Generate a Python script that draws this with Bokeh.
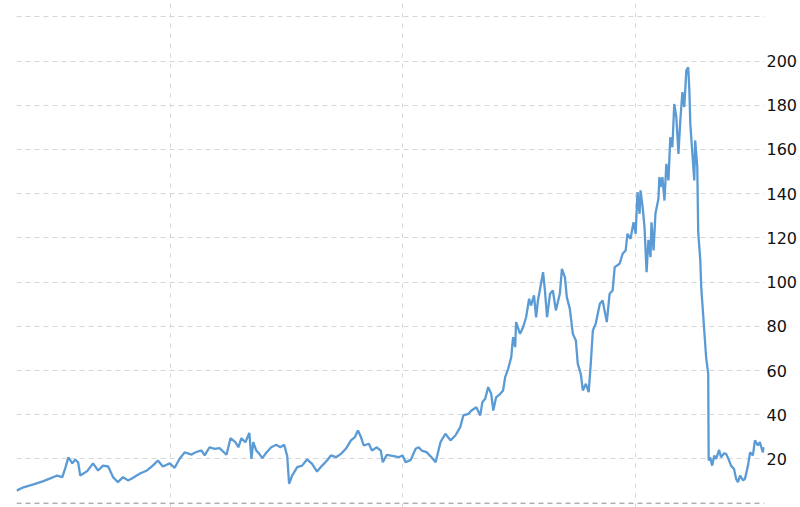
from bokeh.plotting import figure
from bokeh.models import Range1d, FixedTicker, LinearAxis, Span, Grid
from bokeh.embed import file_html
from bokeh.resources import INLINE

years = [
    1983.40, 1983.70, 1984.13, 1984.56, 1984.85, 1985.15, 1985.37, 1985.50, 1985.63, 1985.80,
    1985.92, 1986.05, 1986.14, 1986.44, 1986.69, 1986.91, 1987.12, 1987.34, 1987.55, 1987.76,
    1987.98, 1988.19, 1988.36, 1988.71, 1989.01, 1989.26, 1989.48, 1989.69, 1989.99, 1990.20,
    1990.42, 1990.63, 1990.93, 1991.06, 1991.23, 1991.36, 1991.49, 1991.70, 1991.92, 1992.13,
    1992.43, 1992.60, 1992.81, 1992.94, 1993.07, 1993.24, 1993.41, 1993.50, 1993.58, 1993.71,
    1993.84, 1993.97, 1994.14, 1994.35, 1994.57, 1994.74, 1994.91, 1995.04, 1995.12, 1995.25,
    1995.47, 1995.68, 1995.89, 1996.11, 1996.32, 1996.54, 1996.75, 1996.92, 1997.14, 1997.35,
    1997.56, 1997.78, 1997.95, 1998.08, 1998.21, 1998.33, 1998.55, 1998.68, 1998.89, 1999.06,
    1999.15, 1999.32, 1999.62, 1999.83, 2000.00, 2000.13, 2000.35, 2000.56, 2000.69, 2000.82,
    2001.03, 2001.24, 2001.42, 2001.63, 2001.84, 2002.06, 2002.27, 2002.48, 2002.61, 2002.83,
    2002.96, 2003.17, 2003.34, 2003.43, 2003.55, 2003.68, 2003.81, 2003.90, 2004.02, 2004.20,
    2004.32, 2004.41, 2004.54, 2004.67, 2004.75, 2004.84, 2004.88, 2005.05, 2005.18, 2005.31,
    2005.44, 2005.52, 2005.65, 2005.74, 2005.82, 2006.04, 2006.12, 2006.21, 2006.34, 2006.46,
    2006.59, 2006.76, 2006.85, 2006.98, 2007.06, 2007.19, 2007.32, 2007.45, 2007.53, 2007.66,
    2007.75, 2007.88, 2008.00, 2008.09, 2008.18, 2008.30, 2008.48, 2008.60, 2008.78, 2008.90,
    2009.03, 2009.12, 2009.33, 2009.46, 2009.59, 2009.67, 2009.80, 2009.93, 2010.02, 2010.10,
    2010.19, 2010.23, 2010.32, 2010.40, 2010.49, 2010.57, 2010.66, 2010.70, 2010.79, 2010.87,
    2011.00, 2011.04, 2011.09, 2011.17, 2011.26, 2011.34, 2011.43, 2011.51, 2011.60, 2011.68,
    2011.77, 2011.86, 2011.94, 2012.03, 2012.11, 2012.20, 2012.28, 2012.33, 2012.37, 2012.45,
    2012.54, 2012.58, 2012.67, 2012.71, 2012.80, 2012.84, 2012.93, 2012.97, 2013.05, 2013.14,
    2013.16, 2013.22, 2013.31, 2013.40, 2013.48, 2013.61, 2013.69, 2013.82, 2013.91, 2014.04,
    2014.12, 2014.25, 2014.34, 2014.42, 2014.51, 2014.64, 2014.72, 2014.85, 2014.94, 2015.06,
    2015.15, 2015.28, 2015.36, 2015.49, 2015.54,
]

prices = [
    5.7, 7.2, 8.5, 10.0, 11.2, 12.5, 11.8, 16.0, 20.7, 18.0,
    19.7, 18.5, 12.5, 14.5, 18.0, 14.8, 17.0, 16.6, 11.8, 9.5,
    11.8, 10.3, 11.2, 13.4, 14.8, 17.0, 19.3, 16.6, 18.0, 16.0,
    20.2, 23.0, 22.0, 22.8, 23.5, 23.8, 21.6, 25.3, 24.6, 24.9,
    21.9, 29.4, 27.6, 25.3, 29.4, 27.6, 31.8, 20.0, 27.6, 23.8,
    22.3, 20.4, 22.8, 25.3, 26.4, 25.3, 26.4, 21.3, 8.8, 12.5,
    16.3, 17.0, 19.8, 17.8, 14.3, 17.0, 19.3, 21.6, 20.8, 22.3,
    24.6, 28.4, 29.9, 32.9, 29.9, 26.1, 26.9, 23.8, 25.3, 23.8,
    18.5, 21.9, 21.3, 20.8, 21.6, 18.5, 19.6, 24.6, 25.3, 23.8,
    23.1, 20.8, 18.5, 27.6, 31.4, 28.4, 30.6, 34.4, 39.7, 40.4,
    41.9, 43.4, 39.7, 45.7, 47.2, 52.5, 49.5, 41.9, 47.9, 49.5,
    51.0, 57.0, 60.8, 66.0, 75.1, 70.6, 81.9, 76.6, 79.6, 84.1,
    92.5, 89.4, 94.0, 84.1, 91.7, 104.5, 96.2, 84.1, 94.7, 96.2,
    87.2, 94.7, 106.0, 102.2, 93.2, 87.9, 76.6, 73.6, 63.1, 58.5,
    51.0, 54.0, 50.2, 63.1, 78.1, 81.1, 90.2, 91.7, 81.9, 94.7,
    96.2, 106.8, 108.3, 112.8, 114.3, 121.9, 119.6, 127.1, 121.9, 140.7,
    130.9, 141.5, 134.0, 124.9, 104.5, 119.1, 111.3, 127.1, 114.3, 130.9,
    137.7, 147.5, 143.0, 147.5, 136.9, 153.5, 146.0, 165.5, 161.0, 180.6,
    174.6, 158.0, 173.1, 186.0, 179.2, 195.8, 197.2, 186.7, 171.6, 159.5,
    146.0, 164.1, 152.0, 122.6, 109.8, 97.7, 84.1, 78.1, 66.0, 58.5,
    19.3, 20.8, 17.0, 21.6, 20.0, 24.1, 20.8, 22.6, 22.3, 19.3,
    17.0, 15.5, 11.0, 9.5, 12.5, 10.3, 11.0, 17.0, 23.0, 21.6,
    28.4, 26.1, 27.6, 23.0, 25.3,
]

y_tick_values = [20, 40, 60, 80, 100, 120, 140, 160, 180, 200]
y_grid_values = [20, 40, 60, 80, 100, 120, 140, 160, 180, 200, 220]
x_grid_years = [1990, 2000, 2010]

p = figure(
    width=800, height=507,
    output_backend="svg", toolbar_location=None,
    x_range=Range1d(1983.40, 2015.56), y_range=Range1d(-1.95, 227.4),
    x_axis_location=None, y_axis_location=None,
    min_border_left=16, min_border_top=0, min_border_bottom=0, min_border_right=0,
)
p.outline_line_color = None
p.background_fill_color = "white"
p.border_fill_color = "white"
for g in p.grid:
    g.visible = False

ax = LinearAxis(
    ticker=FixedTicker(ticks=y_tick_values),
    major_label_text_font="DejaVu Sans",
    major_label_text_font_size="16px",
    major_label_text_color="#111111",
    major_tick_out=0, major_tick_in=0,
    minor_tick_out=0, minor_tick_in=0,
    axis_line_color=None,
    major_label_standoff=2,
)
p.add_layout(ax, "right")

p.add_layout(Grid(dimension=1, ticker=FixedTicker(ticks=y_grid_values),
                  grid_line_color="#d6d6d6", grid_line_dash="5 4", grid_line_width=1))
p.add_layout(Grid(dimension=0, ticker=FixedTicker(ticks=x_grid_years),
                  grid_line_color="#d6d6d6", grid_line_dash="4 6", grid_line_width=1))
p.add_layout(Span(location=0, dimension="width", line_color="#8c8c8c",
                  line_dash="5 4", line_width=1))

p.line(years, prices, line_color="#5b9bd5", line_width=2.3)

open("out.html", "w").write(file_html(p, INLINE))
